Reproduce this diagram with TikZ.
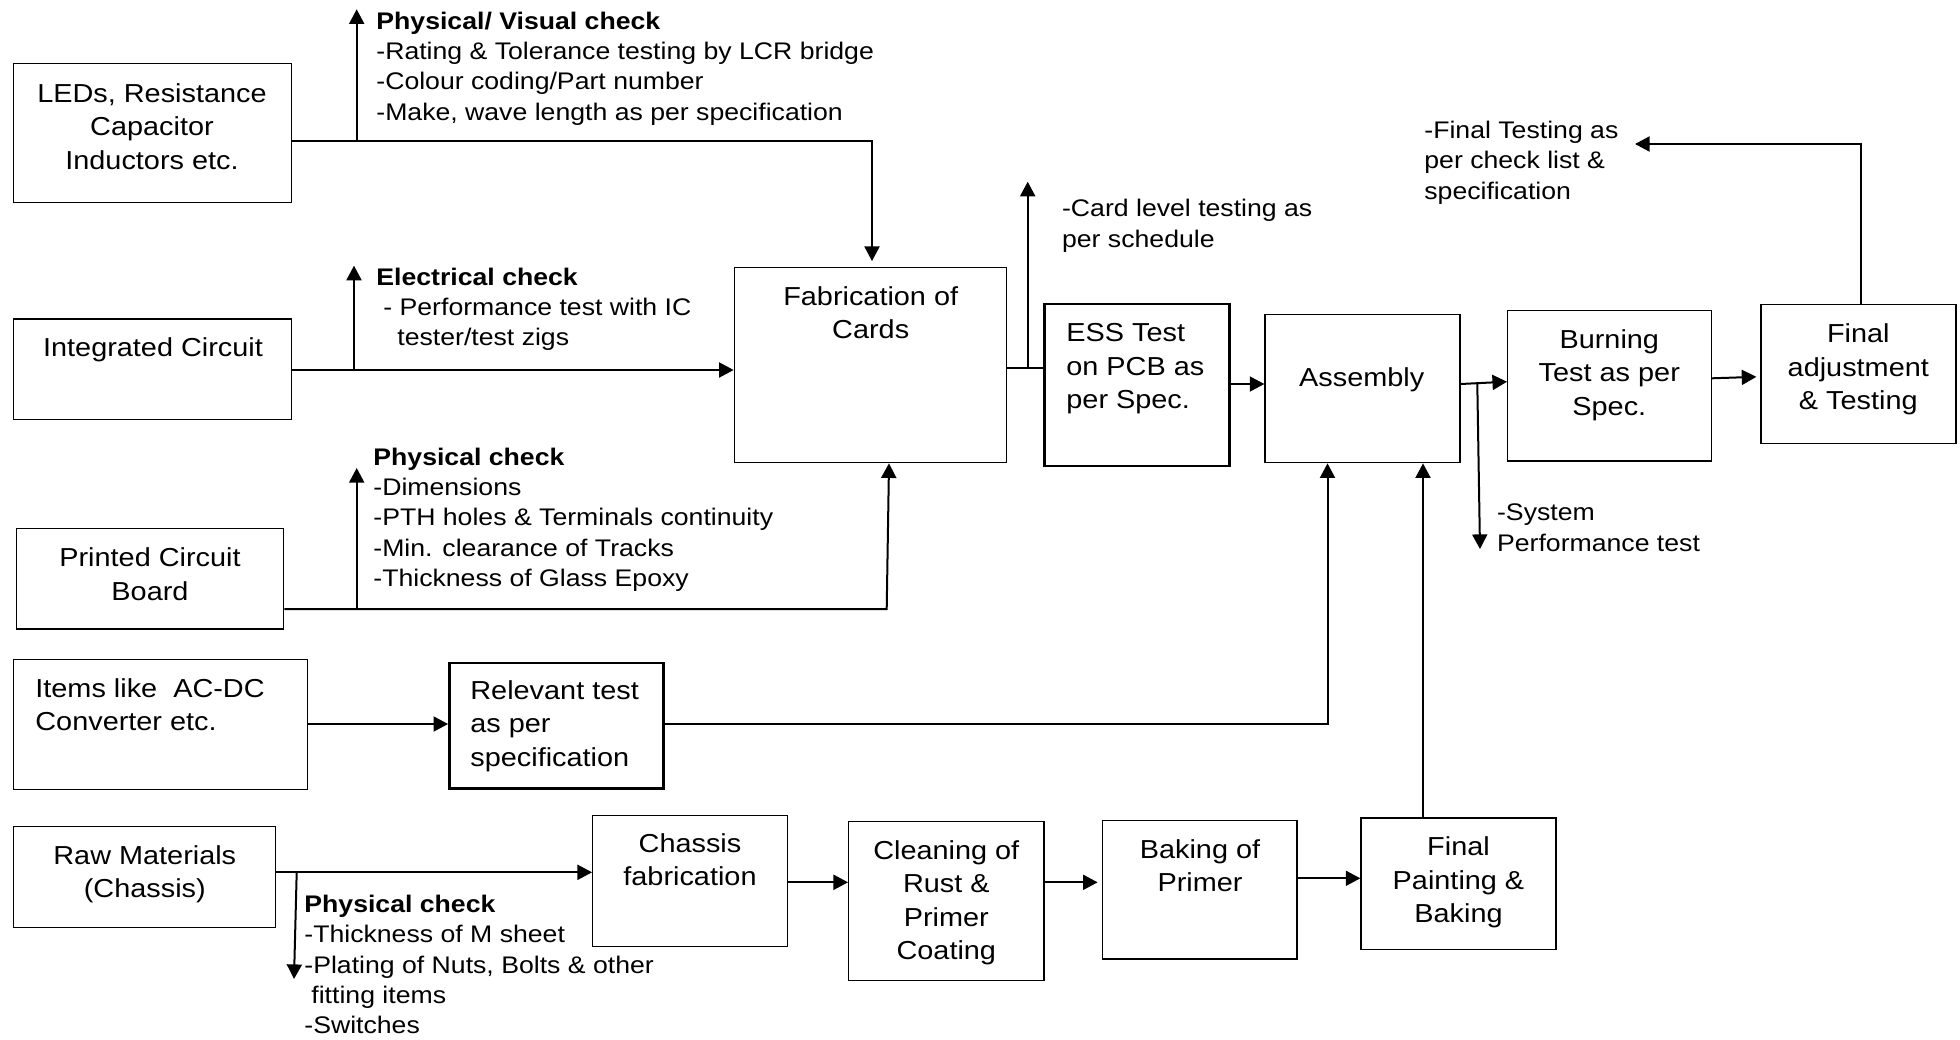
\documentclass[tikz,border=0pt]{standalone}
\usepackage{fontspec}
\setmainfont{Liberation Sans}[FakeStretch=1.11]
\usetikzlibrary{arrows.meta,fit}
\newcommand\ctr[1]{\vtop{\halign{\hfil##\hfil\cr#1\crcr}}}
\newcommand\lft[1]{\vtop{\halign{##\hfil\cr#1\crcr}}}
\newcommand\bxf{\fontsize{13}{16.75}\selectfont}
\newcommand\anf{\fontsize{12}{15.2}\selectfont}
\begin{document}
\begin{tikzpicture}[x=0.5pt,y=-0.5pt,
  box/.style={draw, line width=0.65pt, inner sep=0pt, rectangle},
  tbox/.style={box, line width=1.2pt},
  btxt/.style={inner sep=0pt, anchor=base, font=\bxf},
  ltxt/.style={inner sep=0pt, anchor=base west, font=\bxf},
  atxt/.style={inner sep=0pt, anchor=base west, font=\anf},
  conn/.style={line width=1pt},
  arr/.style={conn, -{Triangle[length=7.3pt,width=7.5pt]}},
]
\fill[white] (0,0) rectangle (1960,1039);
\useasboundingbox (0,0) rectangle (1960,1039);

% boxes
\node[box, fit={(13.3,63.3) (291.7,202.7)}] (leds) {};
\node[box, fit={(13.3,319) (291.7,419.3)}] (ic) {};
\node[box, fit={(16.7,528.3) (283.7,629)}] (pcb) {};
\node[box, fit={(13.7,659.7) (307.7,789.3)}] (items) {};
\node[box, fit={(13.7,826.3) (275.7,927.3)}] (raw) {};
\node[tbox, fit={(449.3,663) (663.3,788.3)}] (rel) {};
\node[box, fit={(734.3,267.7) (1006.3,462.7)}] (fab) {};
\node[tbox, fit={(1044.3,304) (1229.3,465.7)}] (ess) {};
\node[box, fit={(1265,314.3) (1460,462.7)}] (asm) {};
\node[box, fit={(1507.7,310.7) (1711.3,461)}] (burn) {};
\node[box, fit={(1761,304.3) (1956,443.7)}] (final) {};
\node[box, fit={(592.7,815.7) (787.7,946.7)}] (chassis) {};
\node[box, fit={(848.7,821.3) (1044,980.7)}] (clean) {};
\node[box, fit={(1102.3,820.7) (1297,959)}] (bake) {};
\node[box, fit={(1361,818) (1556,949.7)}] (paint) {};

% box texts
\node[btxt] (tleds) at (152,102) {\ctr{LEDs, Resistance\cr Capacitor\cr Inductors etc.}};
\node[btxt] (tic) at (153,356) {\ctr{Integrated Circuit}};
\node[btxt] (tpcb) at (150,566.7) {\ctr{Printed Circuit\cr Board}};
\node[ltxt] (titems) at (35,697.3) {\lft{Items like\ \ AC-DC\cr Converter etc.}};
\node[btxt] (traw) at (144.8,864) {\ctr{Raw Materials\cr (Chassis)}};
\node[ltxt] (trel) at (470,699) {\lft{Relevant test\cr as per\cr specification}};
\node[btxt] (tfab) at (870.7,305) {\ctr{Fabrication of\cr Cards}};
\node[ltxt] (tess) at (1066,341.7) {\lft{ESS Test\cr on PCB as\cr per Spec.}};
\node[btxt] (tasm) at (1361.7,386.7) {\ctr{Assembly}};
\node[btxt] (tburn) at (1609.3,348.3) {\ctr{Burning\cr Test as per\cr Spec.}};
\node[btxt] (tfinal) at (1858.3,342.7) {\ctr{Final\cr adjustment\cr \& Testing}};
\node[btxt] (tchassis) at (690,852.3) {\ctr{Chassis\cr fabrication}};
\node[btxt] (tclean) at (946.3,859) {\ctr{Cleaning of\cr Rust \&\cr Primer\cr Coating}};
\node[btxt] (tbake) at (1200,858.3) {\ctr{Baking of\cr Primer}};
\node[btxt] (tpaint) at (1458.5,855.7) {\ctr{Final\cr Painting \&\cr Baking}};

% annotations
\node[atxt] (chk1) at (376,29) {\lft{\bfseries Physical/ Visual check\cr
  -Rating \& Tolerance testing by LCR bridge\cr
  -Colour coding/Part number\cr
  -Make, wave length as per specification}};
\node[atxt] (chk2) at (376,285) {\lft{\bfseries Electrical check\cr
  \hspace*{3.5pt}- Performance test with IC\cr
  \hspace*{10.5pt}tester/test zigs}};
\node[atxt] (chk3) at (373,465) {\lft{\bfseries Physical check\cr
  -Dimensions\cr
  -PTH holes \& Terminals continuity\cr
  -Min. clearance of Tracks\cr
  -Thickness of Glass Epoxy}};
\node[atxt] (chk4) at (304,912.3) {\lft{\bfseries Physical check\cr
  -Thickness of M sheet\cr
  -Plating of Nuts, Bolts \& other\cr
  \hspace*{3.5pt}fitting items\cr
  -Switches}};
\node[atxt] (card) at (1061.7,216.7) {\lft{-Card level testing as\cr per schedule}};
\node[atxt] (fint) at (1424,138.3) {\lft{-Final Testing as\cr per check list \&\cr specification}};
\node[atxt] (sys) at (1496.7,520.7) {\lft{-System\cr Performance test}};

% junction / free-end coordinates
\coordinate (j1) at (356.7,141);   \coordinate (e1) at (356.7,9.3);
\coordinate (j2) at (354,370);     \coordinate (e2) at (354,265.7);
\coordinate (j3) at (356.7,609);   \coordinate (e3) at (356.7,468);
\coordinate (j4) at (1027.7,367.7);\coordinate (e4) at (1027.7,181.7);
\coordinate (j5) at (1477.3,384);  \coordinate (e5) at (1480,549);
\coordinate (j6) at (1860.7,144);  \coordinate (e6) at (1635,144);
\coordinate (j7) at (296.7,872.3); \coordinate (e7) at (294,979);
\coordinate (c1) at (872,141);
\coordinate (c2) at (886.7,609);
\coordinate (c3) at (1327.5,724);

% connectors
\draw[arr, shorten >=3pt] (leds.east |- 0,141) -- (c1) -- (fab.north -| c1);
\draw[arr] (j1) -- (e1);
\draw[arr] (ic.east |- j2) -- (fab.west |- j2);
\draw[arr] (j2) -- (e2);
\draw[arr] (pcb.east |- c2) -- (c2) -- (fab.south -| 889,0);
\draw[arr] (j3) -- (e3);
\draw[arr] (items.east |- c3) -- (rel.west |- c3);
\draw[arr] (rel.east |- c3) -- (c3) -- (asm.south -| c3);
\draw[conn] (fab.east |- j4) -- (ess.west |- j4);
\draw[arr] (j4) -- (e4);
\draw[arr] (ess.east |- j5) -- (asm.west |- j5);
\draw[arr] (asm.east |- j5) -- (burn.west |- 0,381.7);
\draw[arr] (j5) -- (e5);
\draw[arr, shorten >=2pt] (burn.east |- 0,378.3) -- (final.west |- 0,376.7);
\draw[arr] (final.north -| j6) -- (j6) -- (e6);
\draw[arr] (raw.east |- j7) -- (chassis.west |- j7);
\draw[arr] (j7) -- (e7);
\draw[arr] (chassis.east |- 0,882.3) -- (clean.west |- 0,882.3);
\draw[arr, shorten >=2pt] (clean.east |- 0,882.3) -- (bake.west |- 0,882.3);
\draw[arr] (bake.east |- 0,878.3) -- (paint.west |- 0,878.3);
\draw[arr] (paint.north -| 1423,0) -- (asm.south -| 1423,0);
\end{tikzpicture}
\end{document}
